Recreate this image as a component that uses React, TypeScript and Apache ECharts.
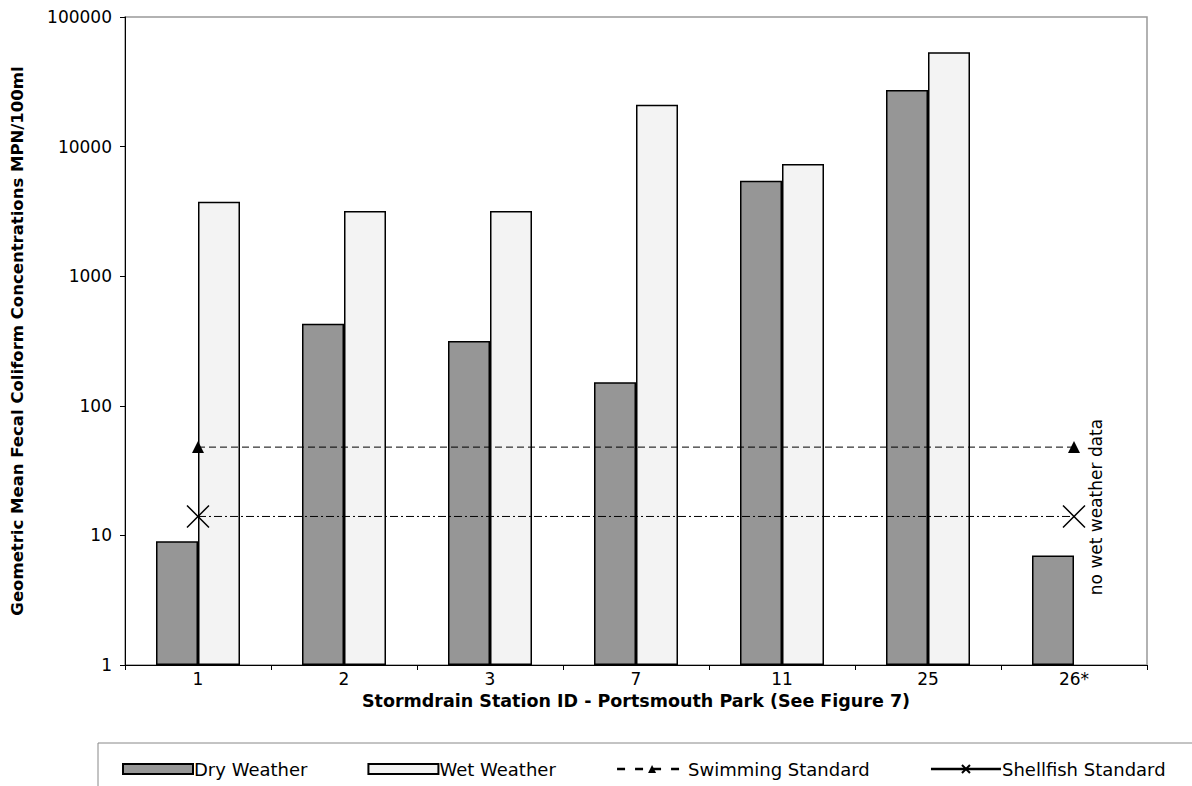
import React, { useEffect, useRef } from "react";
import * as echarts from "echarts";

const categories = ["1", "2", "3", "7", "11", "25", "26*"];
const dryWeather = [9, 430, 316, 152, 5450, 27300, 7];
const wetWeather: (number | null)[] = [3750, 3180, 3180, 21000, 7350, 53500, null];
const swimmingStandard = 48;
const shellfishStandard = 14;
const yTicks = [1, 10, 100, 1000, 10000, 100000];

const FONT = "'DejaVu Sans', Arial, sans-serif";

function standardData(v: number) {
  return categories.map((_, i) =>
    i === 0 || i === categories.length - 1 ? { value: v } : { value: v, symbol: "none" }
  );
}

export default function App() {
  const ref = useRef<HTMLDivElement>(null);
  useEffect(() => {
    if (!ref.current) return;
    const chart = echarts.init(ref.current, null, { renderer: "svg" });
    chart.setOption({
      animation: false,
      backgroundColor: "#fff",
      textStyle: { fontFamily: FONT, color: "#000" },
      grid: {
        left: 125,
        right: 45,
        top: 17,
        bottom: 121,
        show: true,
        borderColor: "#999",
        borderWidth: 1.5,
        backgroundColor: "transparent",
      },
      xAxis: {
        type: "category",
        data: categories,
        boundaryGap: true,
        axisLine: { lineStyle: { color: "#000", width: 1 } },
        axisTick: { show: true, length: 5, lineStyle: { color: "#000" } },
        axisLabel: { fontSize: 17, color: "#000", fontFamily: FONT, margin: 5 },
        name: "Stormdrain Station ID - Portsmouth Park (See Figure 7)",
        nameLocation: "middle",
        nameGap: 20,
        nameTextStyle: { fontSize: 17.5, fontWeight: "bold", color: "#000", fontFamily: FONT },
      },
      yAxis: {
        type: "log",
        logBase: 10,
        min: yTicks[0],
        max: yTicks[yTicks.length - 1],
        axisLine: { show: true, lineStyle: { color: "#000", width: 1 } },
        axisTick: { show: true, length: 5, lineStyle: { color: "#000" } },
        splitLine: { show: false },
        minorTick: { show: false },
        axisLabel: {
          fontSize: 17,
          color: "#000",
          fontFamily: FONT,
          margin: 13,
          formatter: (v: number) => String(Math.round(v)),
        },
        name: "Geometric Mean Fecal Coliform Concentrations MPN/100ml",
        nameLocation: "middle",
        nameGap: 99,
        nameTextStyle: { fontSize: 16.5, fontWeight: "bold", color: "#000", fontFamily: FONT },
      },
      legend: {
        left: 122,
        top: 760,
        padding: 0,
        itemWidth: 70,
        itemHeight: 10,
        itemGap: 60,
        textStyle: { fontSize: 18, color: "#000", fontFamily: FONT, padding: [0, 0, 0, -4] },
        data: [
          { name: "Dry Weather", icon: "rect" },
          { name: "Wet Weather", icon: "rect" },
          { name: "Swimming Standard", lineStyle: { type: [8, 10], width: 2.5 } },
          { name: "Shellfish Standard", lineStyle: { type: "solid", width: 2.5 } },
        ],
      },
      graphic: [
        {
          type: "rect",
          shape: { x: 98, y: 743, width: 1120, height: 60 },
          style: { fill: "none", stroke: "#888", lineWidth: 1 },
          silent: true,
          z: -1,
        },
        {
          type: "text",
          x: 1096,
          y: 507,
          rotation: Math.PI / 2,
          style: {
            text: "no wet weather data",
            fontSize: 17,
            fontFamily: FONT,
            fill: "#000",
            align: "center",
            verticalAlign: "middle",
          },
        },
      ],
      series: [
        {
          name: "Dry Weather",
          type: "bar",
          data: dryWeather,
          barWidth: 42,
          barGap: "0%",
          itemStyle: { color: "#969696", borderColor: "#000", borderWidth: 1.5 },
        },
        {
          name: "Wet Weather",
          type: "bar",
          data: wetWeather,
          barWidth: 42,
          barGap: "0%",
          itemStyle: { color: "#f3f3f3", borderColor: "#000", borderWidth: 1.5 },
        },
        {
          name: "Swimming Standard",
          type: "line",
          data: standardData(swimmingStandard),
          symbol: "triangle",
          symbolSize: 12,
          showSymbol: true,
          lineStyle: { color: "#000", width: 1, type: [7, 4] },
          itemStyle: { color: "#000" },
          z: 5,
        },
        {
          name: "Shellfish Standard",
          type: "line",
          data: standardData(shellfishStandard),
          symbol: "path://M0 0L10 10M10 0L0 10",
          symbolSize: 22,
          showSymbol: true,
          lineStyle: { color: "#000", width: 1, type: [8, 3, 2, 3] },
          itemStyle: { color: "#000", borderColor: "#000", borderWidth: 1.5 },
          z: 5,
        },
      ],
    });
    return () => chart.dispose();
  }, []);
  return <div ref={ref} style={{ width: 1192, height: 786, position: "absolute", left: 0, top: 0 }} />;
}
